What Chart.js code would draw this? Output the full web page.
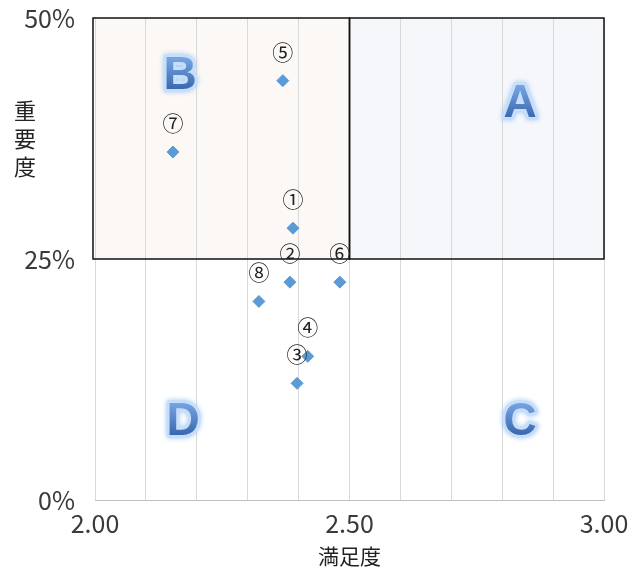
<!DOCTYPE html>
<html>
<head>
<meta charset="utf-8">
<script src="https://cdn.jsdelivr.net/npm/chart.js@4"></script>
<style>
  body { margin: 0; background: #fff; }
  #wrap { width: 633px; height: 572px; }
</style>
</head>
<body>
<div id="wrap"><canvas id="chart"></canvas></div>
<script>
// 項目番号
const itemLabels = ['①', '②', '③', '④', '⑤', '⑥', '⑦', '⑧'];
// 満足度 (x)
const satisfaction = [2.389, 2.383, 2.397, 2.418, 2.369, 2.481, 2.153, 2.322];
// 重要度 % (y)
const importance = [28.2, 22.6, 12.1, 14.9, 43.5, 22.6, 36.1, 20.6];
// 象限ラベル
const quadrantNames = ['A', 'B', 'C', 'D'];
const quadrantX = [2.835, 2.167, 2.835, 2.173];
const quadrantY = [41.0, 43.9, 8.1, 8.1];
// 目盛り
const xTickLabels = [2.0, 2.5, 3.0];
const yTickLabels = [0, 25, 50];

const fontJP = '"Noto Sans CJK JP", "Noto Sans", sans-serif';

const quadrants = {
  id: 'quadrants',
  beforeDraw(chart) {
    const { ctx, scales: { x, y } } = chart;
    const l = x.getPixelForValue(2), m = x.getPixelForValue(2.5), r = x.getPixelForValue(3);
    const t = y.getPixelForValue(50), b = y.getPixelForValue(25);
    ctx.save();
    ctx.fillStyle = '#fcf8f5';
    ctx.fillRect(l, t, m - l, b - t);
    ctx.fillStyle = '#f6f7fb';
    ctx.fillRect(m, t, r - m, b - t);
    ctx.restore();
  },
  beforeDatasetsDraw(chart) {
    const { ctx, scales: { x, y } } = chart;
    const l = x.getPixelForValue(2), m = x.getPixelForValue(2.5), r = x.getPixelForValue(3);
    const t = y.getPixelForValue(50), b = y.getPixelForValue(25);
    ctx.save();
    ctx.strokeStyle = '#111';
    ctx.lineWidth = 1.5;
    ctx.strokeRect(l - 2, t, m - l + 2, b - t);
    ctx.strokeRect(m, t, r - m, b - t);

    // 象限の文字
    ctx.font = 'bold 46px "Liberation Sans", sans-serif';
    ctx.textAlign = 'center';
    ctx.textBaseline = 'middle';
    quadrantNames.forEach((q, i) => {
      const cx = x.getPixelForValue(quadrantX[i]);
      const cy = y.getPixelForValue(quadrantY[i]);
      ctx.save();
      ctx.shadowColor = 'rgba(150,195,245,0.9)';
      ctx.shadowBlur = 5;
      ctx.strokeStyle = '#c8def8';
      ctx.lineWidth = 6;
      ctx.lineJoin = 'round';
      ctx.strokeText(q, cx, cy);
      ctx.restore();
      const g = ctx.createLinearGradient(0, cy - 18, 0, cy + 18);
      g.addColorStop(0, '#75a3e0');
      g.addColorStop(1, '#2f5ea9');
      ctx.fillStyle = g;
      ctx.fillText(q, cx, cy);
    });
    ctx.restore();
  },
  afterDatasetsDraw(chart) {
    const { ctx, scales: { x, y } } = chart;
    ctx.save();
    ctx.font = '21px ' + fontJP;
    ctx.fillStyle = '#222';
    ctx.textAlign = 'center';
    ctx.textBaseline = 'middle';
    itemLabels.forEach((lab, i) => {
      ctx.fillText(lab, x.getPixelForValue(satisfaction[i]), y.getPixelForValue(importance[i]) - 29);
    });
    // 縦書きの軸タイトル
    ctx.font = '22px ' + fontJP;
    ctx.fillStyle = '#222';
    const cy = y.getPixelForValue(37.5);
    ['重', '要', '度'].forEach((c, i) => {
      ctx.fillText(c, 25, cy + (i - 1) * 28);
    });
    ctx.restore();
  }
};

new Chart(document.getElementById('chart'), {
  type: 'scatter',
  data: {
    datasets: [{
      data: satisfaction.map((v, i) => ({ x: v, y: importance[i] })),
      backgroundColor: '#5b9bd5',
      borderColor: '#5b9bd5',
      pointStyle: 'rectRot',
      pointRadius: 6,
      pointHoverRadius: 6
    }]
  },
  plugins: [quadrants],
  options: {
    responsive: true,
    maintainAspectRatio: false,
    animation: false,
    layout: { padding: { top: 18, right: 29, left: 0, bottom: 0 } },
    plugins: { legend: { display: false }, tooltip: { enabled: false } },
    scales: {
      x: {
        type: 'linear',
        min: 2, max: 3,
        afterFit: s => { s.height = 72; s.paddingLeft = 0; s.paddingRight = 0; },
        ticks: {
          stepSize: 0.1,
          autoSkip: false,
          maxRotation: 0,
          padding: 8,
          color: '#3a3a3a',
          font: { family: fontJP, size: 25 },
          callback: v => xTickLabels.some(t => Math.abs(t - v) < 1e-6) ? v.toFixed(2) : ''
        },
        grid: { color: '#d9d9d9', drawTicks: false },
        border: { color: '#bfbfbf' },
        title: {
          display: true,
          text: '満足度',
          color: '#222',
          font: { family: fontJP, size: 21 },
          padding: { top: 0, bottom: 3 }
        }
      },
      y: {
        min: 0, max: 50,
        afterFit: s => { s.width = 95; s.paddingTop = 0; s.paddingBottom = 0; },
        ticks: {
          stepSize: 25,
          padding: 20,
          color: '#3a3a3a',
          font: { family: fontJP, size: 25 },
          callback: v => yTickLabels.includes(v) ? v + '%' : ''
        },
        grid: { display: false, drawTicks: false },
        border: { display: false }
      }
    }
  }
});
</script>
</body>
</html>
